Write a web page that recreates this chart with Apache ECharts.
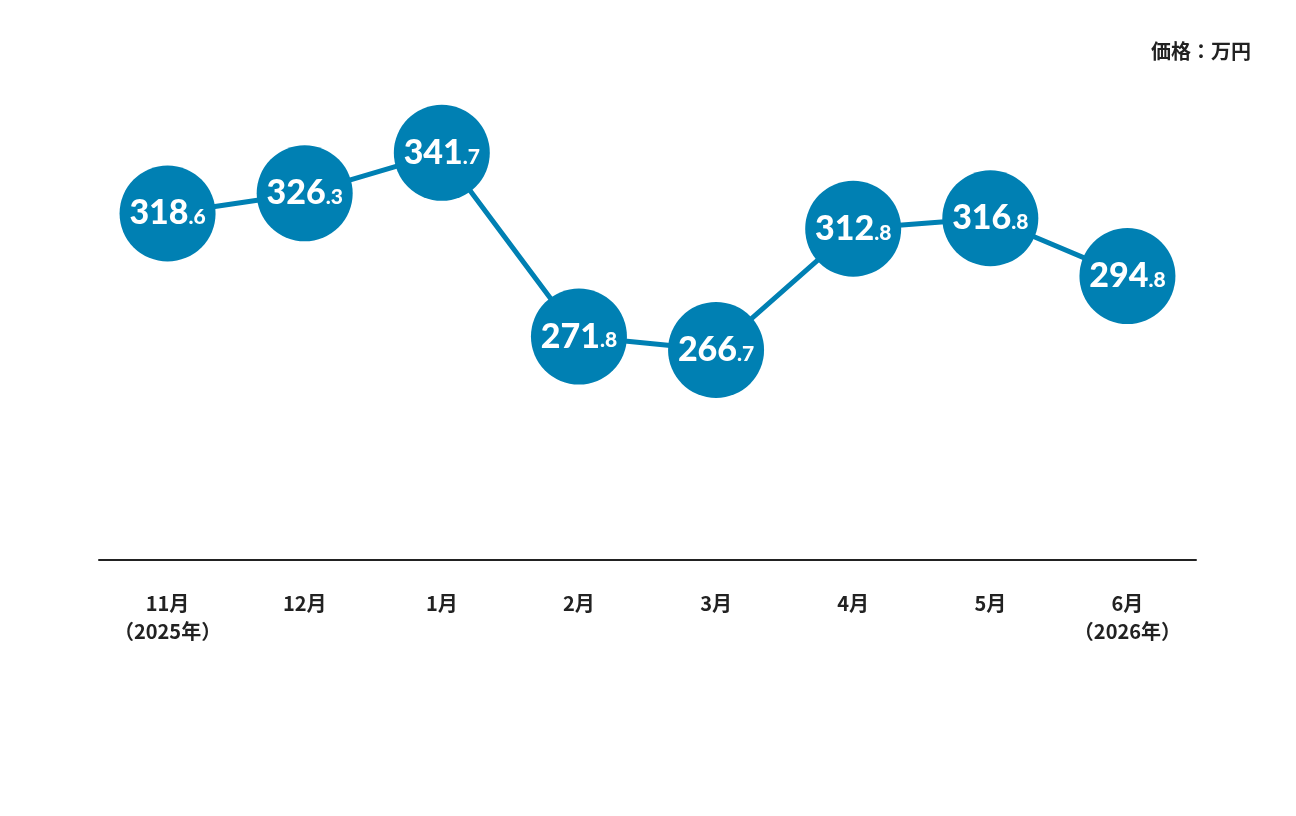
<!DOCTYPE html>
<html lang="ja">
<head>
    <meta charset="UTF-8">
    <title>価格推移</title>
    <script src="https://cdn.jsdelivr.net/npm/echarts@6/dist/echarts.min.js"></script>
    <style>
        *{
            padding:0;
            margin:0;
        }
        html,body{
            height:100%;
            background:#fff;
        }
        #main{
            width:1296px;
            height:816px;
        }
    </style>
</head>
<body>
<div id="main"></div>
<script>
    var months = ['11月\n（2025年）', '12月', '1月', '2月', '3月', '4月', '5月', '6月\n（2026年）'];
    var prices = [318.6, 326.3, 341.7, 271.8, 266.7, 312.8, 316.8, 294.8];
    var unitText = '価格：万円';

    var blue = '#0080b3';
    var myChart = echarts.init(document.getElementById('main'));
    var option = {
        animation: false,
        title: {
            text: unitText,
            right: 40,
            top: 36,
            textStyle: {
                fontFamily: 'Noto Sans CJK JP',
                fontSize: 20,
                fontWeight: 'bold',
                color: '#222'
            }
        },
        grid: {
            left: 99,
            right: 100,
            top: 60,
            bottom: 256
        },
        xAxis: {
            type: 'category',
            data: months,
            boundaryGap: true,
            axisLine: {
                lineStyle: { color: '#222', width: 2 }
            },
            axisTick: { show: false },
            axisLabel: {
                interval: 0,
                margin: 29,
                fontFamily: 'Noto Sans CJK JP',
                fontSize: 20,
                fontWeight: 'bold',
                color: '#222',
                lineHeight: 28
            }
        },
        yAxis: {
            type: 'value',
            min: 186.8,
            max: 377,
            show: false,
            splitLine: { show: false }
        },
        series: [
            {
                type: 'line',
                data: prices,
                symbol: 'circle',
                symbolSize: 96,
                showAllSymbol: true,
                lineStyle: { color: blue, width: 5 },
                itemStyle: { color: blue },
                label: {
                    show: true,
                    position: 'inside',
                    formatter: function (p) {
                        var parts = p.value.toFixed(1).split('.');
                        return '{a|' + parts[0] + '}{b|.' + parts[1] + '}';
                    },
                    rich: {
                        a: {
                            fontFamily: 'Lato',
                            fontWeight: 900,
                            fontSize: 34,
                            color: '#fff'
                        },
                        b: {
                            fontFamily: 'Lato',
                            fontWeight: 900,
                            fontSize: 21,
                            color: '#fff',
                            padding: [8, 0, 0, 0]
                        }
                    }
                }
            }
        ]
    };
    myChart.setOption(option);
</script>
</body>
</html>
